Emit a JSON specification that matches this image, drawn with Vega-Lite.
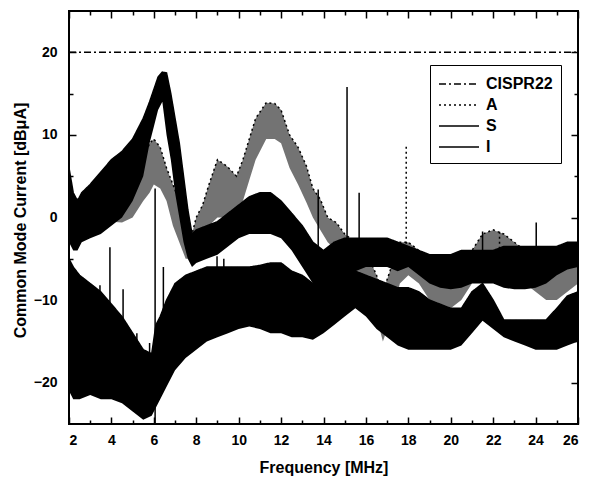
{
"$schema":"https://vega.github.io/schema/vega-lite/v6.json",
"width":509,"height":413,
"autosize":{"type":"none"},
"padding":{"left":69,"top":11,"right":18,"bottom":56},
"background":"white",
"config":{"font":"Liberation Sans","view":{"stroke":"black","strokeWidth":2},
"axis":{"domain":false,"grid":false,"tickColor":"black","tickWidth":1.5,"labelColor":"black","labelFontSize":14,"labelFontWeight":"bold","titleColor":"black","titleFontSize":16,"titleFontWeight":"bold"}},
"datasets":{
"curves":[
{"s":"CISPR22","f":2,"lo":20,"hi":20},{"s":"CISPR22","f":26,"lo":20,"hi":20},
{"s":"A","f":2.0,"lo":-1,"hi":3},{"s":"A","f":2.5,"lo":-1,"hi":2},{"s":"A","f":3.0,"lo":0,"hi":3},{"s":"A","f":3.5,"lo":0,"hi":3.5},{"s":"A","f":4.0,"lo":-0.5,"hi":4},{"s":"A","f":4.5,"lo":-0.6,"hi":4.5},{"s":"A","f":5.0,"lo":0,"hi":5.5},{"s":"A","f":5.5,"lo":2,"hi":7},{"s":"A","f":5.8,"lo":3,"hi":9},{"s":"A","f":6.0,"lo":4,"hi":9.5},{"s":"A","f":6.3,"lo":3.5,"hi":8.5},{"s":"A","f":6.6,"lo":2,"hi":6},{"s":"A","f":6.9,"lo":-1,"hi":4},{"s":"A","f":7.2,"lo":-3,"hi":2},{"s":"A","f":7.5,"lo":-5,"hi":-1},{"s":"A","f":7.8,"lo":-5,"hi":-2},{"s":"A","f":8.0,"lo":-4,"hi":0},{"s":"A","f":8.3,"lo":-2.3,"hi":1.5},{"s":"A","f":8.6,"lo":-1,"hi":4},{"s":"A","f":9.0,"lo":0,"hi":7},{"s":"A","f":9.45,"lo":0,"hi":6.2},{"s":"A","f":9.9,"lo":-0.5,"hi":5},{"s":"A","f":10.2,"lo":2,"hi":7},{"s":"A","f":10.5,"lo":4.5,"hi":9.5},{"s":"A","f":10.8,"lo":7,"hi":12},{"s":"A","f":11.3,"lo":9.5,"hi":13.9},{"s":"A","f":11.7,"lo":9.5,"hi":13.8},{"s":"A","f":12.0,"lo":9,"hi":13},{"s":"A","f":12.4,"lo":6,"hi":10},{"s":"A","f":12.8,"lo":4,"hi":8.5},{"s":"A","f":13.2,"lo":1.8,"hi":6.2},{"s":"A","f":13.5,"lo":0,"hi":3.5},{"s":"A","f":13.85,"lo":-1.5,"hi":2.2},{"s":"A","f":14.2,"lo":-3,"hi":0},{"s":"A","f":14.6,"lo":-4,"hi":-0.6},{"s":"A","f":15.0,"lo":-6,"hi":-2},{"s":"A","f":15.5,"lo":-7,"hi":-3},{"s":"A","f":16.0,"lo":-9,"hi":-4},{"s":"A","f":16.5,"lo":-12,"hi":-7},{"s":"A","f":16.8,"lo":-15,"hi":-9},{"s":"A","f":17.2,"lo":-12,"hi":-6},{"s":"A","f":17.6,"lo":-8,"hi":-3},{"s":"A","f":18.0,"lo":-7,"hi":-3},{"s":"A","f":18.5,"lo":-8,"hi":-4},{"s":"A","f":19.0,"lo":-10,"hi":-6},{"s":"A","f":19.5,"lo":-11,"hi":-7},{"s":"A","f":20.0,"lo":-11,"hi":-7},{"s":"A","f":20.5,"lo":-10,"hi":-6},{"s":"A","f":21.0,"lo":-8,"hi":-4},{"s":"A","f":21.5,"lo":-6,"hi":-2},{"s":"A","f":22.0,"lo":-5,"hi":-1.5},{"s":"A","f":22.5,"lo":-6,"hi":-2},{"s":"A","f":23.0,"lo":-7,"hi":-3},{"s":"A","f":23.5,"lo":-8,"hi":-4},{"s":"A","f":24.0,"lo":-9,"hi":-5},{"s":"A","f":24.5,"lo":-10,"hi":-6},{"s":"A","f":25.0,"lo":-10,"hi":-6},{"s":"A","f":25.5,"lo":-9,"hi":-5},{"s":"A","f":26.0,"lo":-8,"hi":-4},
{"s":"S","f":2.0,"lo":-3,"hi":6},{"s":"S","f":2.2,"lo":-4,"hi":3},{"s":"S","f":2.4,"lo":-4,"hi":2},{"s":"S","f":2.6,"lo":-3,"hi":3},{"s":"S","f":3.0,"lo":-2.5,"hi":4},{"s":"S","f":3.5,"lo":-2,"hi":5.5},{"s":"S","f":4.0,"lo":-1,"hi":7},{"s":"S","f":4.5,"lo":0,"hi":8},{"s":"S","f":5.0,"lo":2,"hi":9.5},{"s":"S","f":5.5,"lo":5,"hi":12},{"s":"S","f":5.8,"lo":9,"hi":14},{"s":"S","f":6.0,"lo":11,"hi":15.5},{"s":"S","f":6.2,"lo":13,"hi":17},{"s":"S","f":6.4,"lo":14,"hi":17.6},{"s":"S","f":6.6,"lo":10,"hi":17.5},{"s":"S","f":6.8,"lo":7,"hi":15},{"s":"S","f":7.0,"lo":3,"hi":12},{"s":"S","f":7.2,"lo":0,"hi":9},{"s":"S","f":7.4,"lo":-3,"hi":5},{"s":"S","f":7.6,"lo":-5,"hi":1},{"s":"S","f":7.8,"lo":-6,"hi":-2},{"s":"S","f":8.0,"lo":-5.5,"hi":-1.5},{"s":"S","f":8.5,"lo":-5,"hi":-1},{"s":"S","f":9.0,"lo":-4.5,"hi":-0.5},{"s":"S","f":9.5,"lo":-3.5,"hi":0.5},{"s":"S","f":10.0,"lo":-2.5,"hi":1.5},{"s":"S","f":10.5,"lo":-2,"hi":2.5},{"s":"S","f":11.0,"lo":-2,"hi":3},{"s":"S","f":11.5,"lo":-2,"hi":3},{"s":"S","f":12.0,"lo":-2.5,"hi":2},{"s":"S","f":12.5,"lo":-4,"hi":0.5},{"s":"S","f":13.0,"lo":-6,"hi":-1},{"s":"S","f":13.5,"lo":-8,"hi":-3},{"s":"S","f":14.0,"lo":-8.5,"hi":-4},{"s":"S","f":14.5,"lo":-8,"hi":-3},{"s":"S","f":15.0,"lo":-7,"hi":-2.5},{"s":"S","f":15.5,"lo":-6.5,"hi":-2.5},{"s":"S","f":16.0,"lo":-6,"hi":-2.5},{"s":"S","f":16.5,"lo":-6,"hi":-2.5},{"s":"S","f":17.0,"lo":-6,"hi":-2.5},{"s":"S","f":17.5,"lo":-6.5,"hi":-3},{"s":"S","f":18.0,"lo":-6,"hi":-3.5},{"s":"S","f":18.5,"lo":-7,"hi":-4},{"s":"S","f":19.0,"lo":-8,"hi":-4.5},{"s":"S","f":19.5,"lo":-8.5,"hi":-4.5},{"s":"S","f":20.0,"lo":-8.7,"hi":-4.5},{"s":"S","f":20.5,"lo":-8.5,"hi":-4},{"s":"S","f":21.0,"lo":-8,"hi":-4},{"s":"S","f":21.5,"lo":-8,"hi":-4},{"s":"S","f":22.0,"lo":-8,"hi":-4},{"s":"S","f":22.5,"lo":-8.5,"hi":-3.5},{"s":"S","f":23.0,"lo":-8.7,"hi":-3.5},{"s":"S","f":23.5,"lo":-8.7,"hi":-3.5},{"s":"S","f":24.0,"lo":-8.5,"hi":-3.5},{"s":"S","f":24.5,"lo":-8,"hi":-3.5},{"s":"S","f":25.0,"lo":-7,"hi":-3.5},{"s":"S","f":25.5,"lo":-6.3,"hi":-3},{"s":"S","f":26.0,"lo":-6,"hi":-3},
{"s":"I","f":2.0,"lo":-21,"hi":-5},{"s":"I","f":2.2,"lo":-22,"hi":-6},{"s":"I","f":2.5,"lo":-22,"hi":-7},{"s":"I","f":3.0,"lo":-21.5,"hi":-8},{"s":"I","f":3.5,"lo":-22,"hi":-9},{"s":"I","f":4.0,"lo":-22,"hi":-10.5},{"s":"I","f":4.5,"lo":-22.5,"hi":-12},{"s":"I","f":5.0,"lo":-23.5,"hi":-14},{"s":"I","f":5.5,"lo":-24.5,"hi":-16},{"s":"I","f":5.9,"lo":-24,"hi":-16.5},{"s":"I","f":6.1,"lo":-23,"hi":-13},{"s":"I","f":6.3,"lo":-22,"hi":-12},{"s":"I","f":6.6,"lo":-20.5,"hi":-10},{"s":"I","f":7.0,"lo":-18.5,"hi":-8},{"s":"I","f":7.5,"lo":-17,"hi":-7},{"s":"I","f":8.0,"lo":-16,"hi":-6.5},{"s":"I","f":8.5,"lo":-15,"hi":-6},{"s":"I","f":9.0,"lo":-14.5,"hi":-6},{"s":"I","f":9.5,"lo":-14,"hi":-6},{"s":"I","f":10.0,"lo":-13.5,"hi":-6},{"s":"I","f":10.5,"lo":-13.2,"hi":-6},{"s":"I","f":11.0,"lo":-13.5,"hi":-5.8},{"s":"I","f":11.5,"lo":-14,"hi":-5.5},{"s":"I","f":12.0,"lo":-14,"hi":-5.5},{"s":"I","f":12.5,"lo":-14.5,"hi":-6.5},{"s":"I","f":13.0,"lo":-14.5,"hi":-7},{"s":"I","f":13.5,"lo":-14.8,"hi":-8},{"s":"I","f":14.0,"lo":-14,"hi":-8},{"s":"I","f":14.5,"lo":-13,"hi":-7},{"s":"I","f":15.0,"lo":-12,"hi":-6.5},{"s":"I","f":15.5,"lo":-11,"hi":-6.5},{"s":"I","f":16.0,"lo":-12,"hi":-7},{"s":"I","f":16.5,"lo":-13.5,"hi":-7.5},{"s":"I","f":17.0,"lo":-14.5,"hi":-8},{"s":"I","f":17.5,"lo":-15.5,"hi":-8.5},{"s":"I","f":18.0,"lo":-16,"hi":-8.5},{"s":"I","f":18.5,"lo":-16,"hi":-9},{"s":"I","f":19.0,"lo":-16,"hi":-10},{"s":"I","f":19.5,"lo":-16,"hi":-10.5},{"s":"I","f":20.0,"lo":-16,"hi":-11},{"s":"I","f":20.5,"lo":-15.5,"hi":-11},{"s":"I","f":21.0,"lo":-14,"hi":-9},{"s":"I","f":21.5,"lo":-12.5,"hi":-8},{"s":"I","f":22.0,"lo":-13.5,"hi":-10},{"s":"I","f":22.5,"lo":-14.5,"hi":-12.4},{"s":"I","f":23.0,"lo":-15,"hi":-12.4},{"s":"I","f":23.5,"lo":-15.5,"hi":-12.4},{"s":"I","f":24.0,"lo":-16,"hi":-12.4},{"s":"I","f":24.5,"lo":-16,"hi":-12.4},{"s":"I","f":25.0,"lo":-16,"hi":-11},{"s":"I","f":25.5,"lo":-15.5,"hi":-9.5},{"s":"I","f":26.0,"lo":-15,"hi":-9}
],
"spikes":[
{"s":"I","f":3.13,"lo":-15,"hi":-8.3},{"s":"I","f":3.46,"lo":-15,"hi":-8.2},{"s":"I","f":3.93,"lo":-12,"hi":-3.6},{"s":"I","f":4.55,"lo":-15,"hi":-8.7},{"s":"I","f":5.2,"lo":-18,"hi":-14},{"s":"I","f":5.8,"lo":-18,"hi":-15.2},{"s":"I","f":6.06,"lo":-25,"hi":3.5},{"s":"I","f":6.45,"lo":-15,"hi":-6},{"s":"I","f":8.98,"lo":-8,"hi":-4.7},{"s":"I","f":9.3,"lo":-8,"hi":-5},{"s":"S","f":13.75,"lo":-8,"hi":3.4},{"s":"S","f":15.11,"lo":-5,"hi":15.8},{"s":"S","f":15.68,"lo":-5,"hi":3},{"s":"S","f":21.5,"lo":-5,"hi":-1.7},{"s":"S","f":24.03,"lo":-4,"hi":-0.6},{"s":"A","f":17.9,"lo":-5,"hi":8.8},{"s":"A","f":22.3,"lo":-5,"hi":-1.5}
]},
"resolve":{"axis":{"x":"independent","y":"independent"}},
"layer":[
{"data":{"name":"curves"},"transform":[{"filter":"datum.s == 'A'"}],
 "mark":{"type":"area","color":"black","opacity":0.55},
 "encoding":{
  "x":{"field":"f","type":"quantitative","scale":{"domain":[2,26],"nice":false,"zero":false},
   "axis":{"orient":"bottom","values":[2,4,6,8,10,12,14,16,18,20,22,24,26],"tickSize":-7,"labelPadding":16,"title":"Frequency [MHz]","titleY":43,"titleBaseline":"middle"}},
  "y":{"field":"lo","type":"quantitative","scale":{"domain":[-25,25],"nice":false,"zero":false},
   "axis":{"orient":"left","values":[-20,-10,0,10,20],"tickSize":-7,"labelPadding":19,"title":"Common Mode Current [dBμA]","titleX":-49,"titleY":209,"titleAngle":-90,"titleAlign":"center","titleBaseline":"middle"}},
  "y2":{"field":"hi"}}},
{"data":{"name":"curves"},"transform":[{"filter":"datum.s == 'S' || datum.s == 'I'"}],
 "mark":{"type":"area","color":"black"},
 "encoding":{
  "x":{"field":"f","type":"quantitative","axis":{"orient":"bottom","values":[3,5,7,9,11,13,15,17,19,21,23,25],"tickSize":-4,"labels":false,"title":null}},
  "y":{"field":"lo","type":"quantitative","axis":{"orient":"left","values":[-15,-5,5,15],"tickSize":-4,"labels":false,"title":null}},
  "y2":{"field":"hi"},
  "detail":{"field":"s"}}},
{"data":{"name":"curves"},
 "mark":{"type":"line","color":"black","strokeWidth":1.5},
 "encoding":{
  "x":{"field":"f","type":"quantitative","axis":{"orient":"top","values":[2,4,6,8,10,12,14,16,18,20,22,24,26],"tickSize":-7,"labels":false,"title":null}},
  "y":{"field":"hi","type":"quantitative","axis":{"orient":"right","values":[-20,-10,0,10,20],"tickSize":-7,"labels":false,"title":null}},
  "strokeDash":{"field":"s","type":"nominal","scale":{"domain":["CISPR22","A","S","I"],"range":[[7,3,2,3],[2,3],[1,0],[1,0]]},
   "legend":{"title":null,"orient":"none","legendX":361,"legendY":54,"symbolType":"M-2,0H2","symbolSize":400,"symbolOffset":10,"symbolStrokeColor":"black","symbolStrokeWidth":1.5,"labelFontSize":16,"labelFontWeight":"bold","labelColor":"black","strokeColor":"black","padding":8,"rowPadding":2,"labelOffset":16}}}},
{"data":{"name":"spikes"},
 "mark":{"type":"rule","color":"black","strokeWidth":1.5},
 "encoding":{
  "x":{"field":"f","type":"quantitative","axis":{"orient":"top","values":[3,5,7,9,11,13,15,17,19,21,23,25],"tickSize":-4,"labels":false,"title":null}},
  "y":{"field":"lo","type":"quantitative","axis":{"orient":"right","values":[-15,-5,5,15],"tickSize":-4,"labels":false,"title":null}},
  "y2":{"field":"hi"},
  "strokeDash":{"field":"s","type":"nominal","legend":null}}}
]
}
